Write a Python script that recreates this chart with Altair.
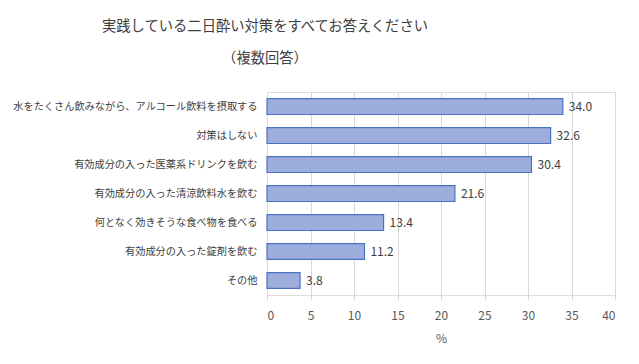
import altair as alt
import pandas as pd

categories = [
    "水をたくさん飲みながら、アルコール飲料を摂取する",
    "対策はしない",
    "有効成分の入った医薬系ドリンクを飲む",
    "有効成分の入った清涼飲料水を飲む",
    "何となく効きそうな食べ物を食べる",
    "有効成分の入った錠剤を飲む",
    "その他",
]
values = [34.0, 32.6, 30.4, 21.6, 13.4, 11.2, 3.8]
x_ticks = [0, 5, 10, 15, 20, 25, 30, 35, 40]

df = pd.DataFrame({"cat": categories, "val": values})
df["label"] = df["val"].map(lambda v: f"{v:.1f}")

FONT = "Noto Sans CJK JP"

y_enc = alt.Y("cat:N", sort=categories, title=None,
              scale=alt.Scale(paddingInner=0.45, paddingOuter=0.225),
              axis=alt.Axis(labelFont=FONT, labelFontSize=10.2, labelColor="#404040",
                            ticks=False, domain=False, labelPadding=10, labelLimit=400))
x_enc = alt.X("val:Q", title="%",
              scale=alt.Scale(domain=[0, 40], nice=False),
              axis=alt.Axis(values=x_ticks, grid=True, gridColor="#d9d9d9",
                            domain=False, ticks=True, tickColor="#d9d9d9", tickSize=5,
                            labelFont=FONT, labelFontSize=12, labelColor="#595959",
                            labelPadding=10, titleFont=FONT, titleFontSize=12,
                            titleColor="#595959", titleFontWeight="normal", titlePadding=12))

bars = alt.Chart(df).mark_bar(fill="#9DAEDD", stroke="#4A72C4", strokeWidth=1.2).encode(
    x=x_enc, y=y_enc)
labels = alt.Chart(df).mark_text(align="left", dx=6, font=FONT, fontSize=12,
                                 color="#404040").encode(
    x=alt.X("val:Q"), y=alt.Y("cat:N", sort=categories), text="label:N")

chart = (bars + labels).properties(
    width=348, height=203,
    autosize=alt.AutoSizeParams(type="none"),
    padding={"left": 259, "top": 84, "right": 12, "bottom": 56},
    title=alt.TitleParams(
        text=["実践している二日酔い対策をすべてお答えください", "（複数回答）"],
        font=FONT, fontSize=14.3, fontWeight="normal", color="#404040",
        anchor="middle", dx=-176, lineHeight=32, offset=26),
).configure_view(stroke=None).configure(background="white")

chart.save("out.html", embed_options={"renderer": "svg", "actions": False})
